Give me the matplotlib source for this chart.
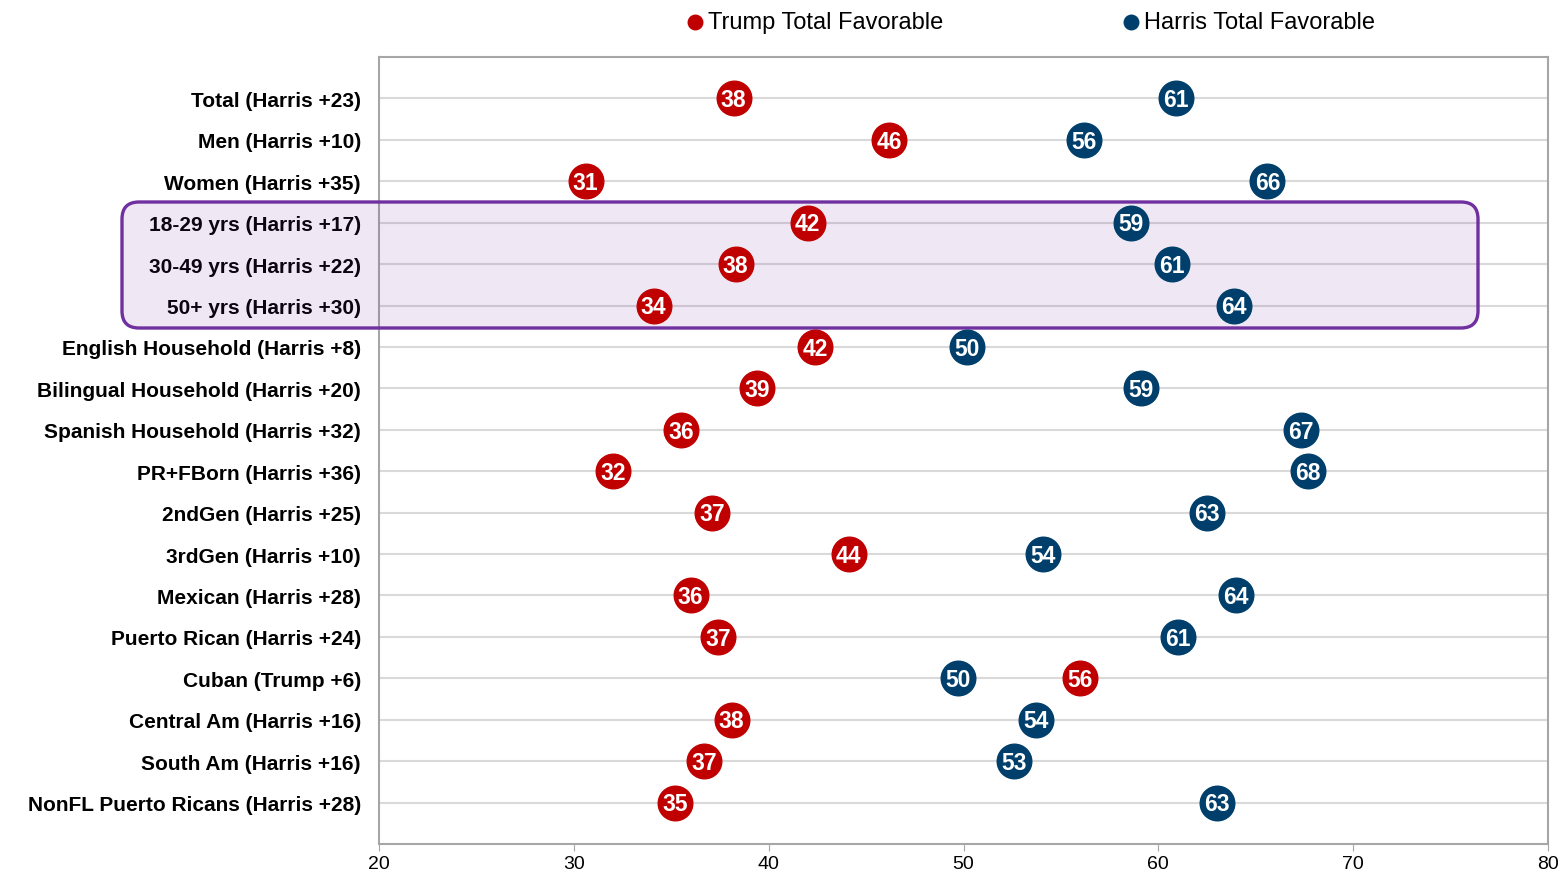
import numpy as np
import matplotlib.pyplot as plt
from matplotlib.patches import FancyBboxPatch

groups = ["Total (Harris +23)", "Men (Harris +10)", "Women (Harris +35)",
          "18-29 yrs (Harris +17)", "30-49 yrs (Harris +22)", "50+ yrs (Harris +30)",
          "English Household (Harris +8)", "Bilingual Household (Harris +20)",
          "Spanish Household (Harris +32)", "PR+FBorn (Harris +36)",
          "2ndGen (Harris +25)", "3rdGen (Harris +10)", "Mexican (Harris +28)",
          "Puerto Rican (Harris +24)", "Cuban (Trump +6)", "Central Am (Harris +16)",
          "South Am (Harris +16)", "NonFL Puerto Ricans (Harris +28)"]

trump = [38.2, 46.2, 30.6, 42.0, 38.3, 34.1, 42.4, 39.4, 35.5, 32.0,
         37.1, 44.1, 36.0, 37.4, 56.0, 38.1, 36.7, 35.2]
harris = [60.9, 56.2, 65.6, 58.6, 60.7, 63.9, 50.2, 59.1, 67.3, 67.7,
          62.5, 54.1, 64.0, 61.0, 49.7, 53.7, 52.6, 63.0]
trump_lbl = [38, 46, 31, 42, 38, 34, 42, 39, 36, 32, 37, 44, 36, 37, 56, 38, 37, 35]
harris_lbl = [61, 56, 66, 59, 61, 64, 50, 59, 67, 68, 63, 54, 64, 61, 50, 54, 53, 63]

red = "#C00000"
navy = "#003F6B"

plt.rcParams['font.family'] = ['Liberation Sans', 'DejaVu Sans']

fig = plt.figure(figsize=(15.62, 8.78), dpi=100)
ax = fig.add_axes([379 / 1562, 1 - 845 / 878, (1548 - 379) / 1562, (845 - 58) / 878])

y = np.arange(len(groups))
ax.scatter(trump, y, s=620, color=red, zorder=4, label="Trump Total Favorable")
ax.scatter(harris, y, s=620, color=navy, zorder=4, label="Harris Total Favorable")

num_font = dict(color="white", fontsize=16.5, fontweight="bold", ha="center", va="center",
                zorder=5)
for xi, yi, t in zip(trump, y, trump_lbl):
    ax.text(xi, yi + 0.03, str(t), **num_font)
for xi, yi, t in zip(harris, y, harris_lbl):
    ax.text(xi, yi + 0.03, str(t), **num_font)

ax.set_xlim(20, 80)
ax.set_ylim(len(groups), -1)
ax.set_xticks(np.arange(20, 81, 10))
ax.set_yticks(y)
ax.set_yticklabels(groups, fontsize=15, fontweight="bold")
ax.tick_params(axis="y", length=0, pad=13)
ax.tick_params(axis="x", labelsize=14, length=5, color="#A6A6A6", pad=3)
ax.set_axisbelow(True)
ax.grid(axis="y", color="#D9D9D9", linewidth=1.5)
for sp in ax.spines.values():
    sp.set_color("#A6A6A6")
    sp.set_linewidth(1.5)

# highlight box around the age rows
box = FancyBboxPatch((1.22, 5.49), 13.56, 1.26,
                     boxstyle="round,pad=0,rounding_size=0.17",
                     transform=fig.dpi_scale_trans, facecolor=(0.44, 0.19, 0.63, 0.11),
                     edgecolor="#7030A0", linewidth=2.4, zorder=3, clip_on=False)
ax.add_artist(box)

leg = fig.legend(loc="center", bbox_to_anchor=(1023 / 1562, 1 - 23 / 878), ncol=2,
                 frameon=False, fontsize=17, handletextpad=-0.45, columnspacing=6.95,
                 markerscale=0.42, borderpad=0)

fig.savefig("out.png", dpi=100)
